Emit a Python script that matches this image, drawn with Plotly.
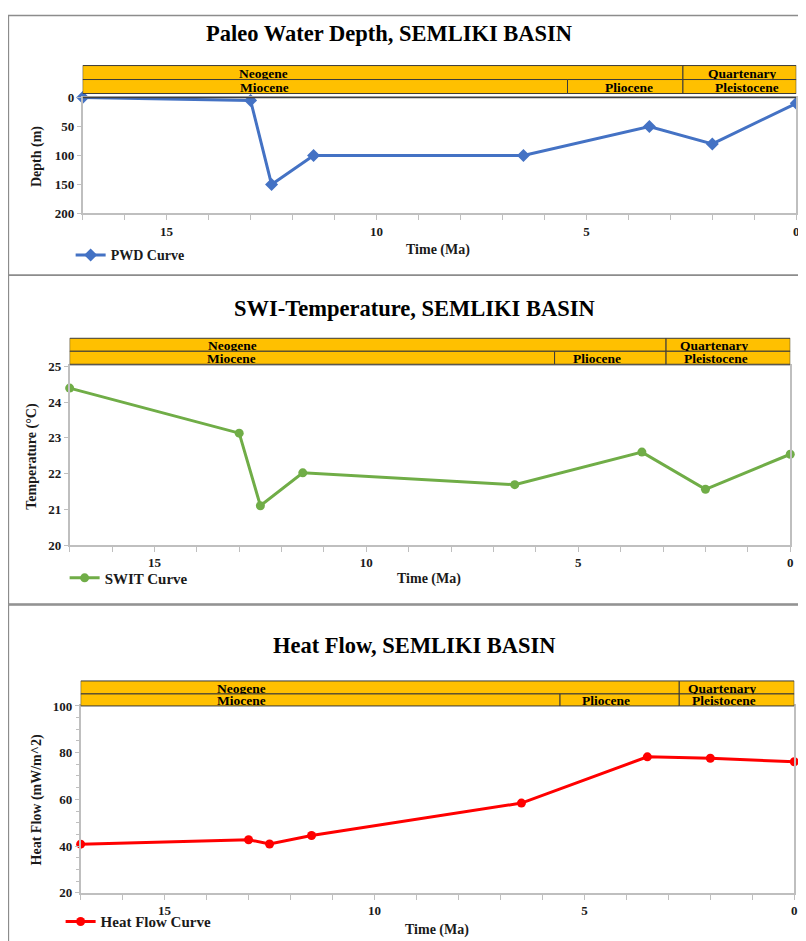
import plotly.graph_objects as go

# ---------------- data ----------------
pwd_time = [17, 13, 12.5, 11.5, 6.5, 3.5, 2, 0]
pwd_depth = [0, 5, 150, 100, 100, 50, 80, 10]

swit_time = [17, 13, 12.5, 11.5, 6.5, 3.5, 2, 0]
swit_temp = [24.39, 23.13, 21.1, 22.02, 21.69, 22.6, 21.56, 22.54]

hf_time = [17, 13, 12.5, 11.5, 6.5, 3.5, 2, 0]
hf_value = [40.8, 42.7, 40.9, 44.5, 58.4, 78.2, 77.6, 76.1]

titles = ["Paleo Water Depth, SEMLIKI BASIN", "SWI-Temperature, SEMLIKI BASIN", "Heat Flow, SEMLIKI BASIN"]
y_titles = ["Depth (m)", "Temperature (°C)", "Heat Flow (mW/m^2)"]
legend_names = ["PWD Curve", "SWIT Curve", "Heat Flow Curve"]
periods = ["Neogene", "Quartenary"]
epochs = ["Miocene", "Pliocene", "Pleistocene"]
# drawn boundaries (Ma) of the time bars in each panel: [Pliocene start, Quaternary start]
bar_bounds = [[5.45, 2.70], [5.56, 2.93], [5.58, 2.74]]
x_ticks = [15, 10, 5, 0]

# ---------------- layout helpers (reference-page pixels -> figure paper) ----------------
W, H = 800, 941
SX, OXP = 0.994, 8.5
SY, OYP = 0.985, 14.4

def px(p):
    return ((p - OXP) / SX) / W

def py(p):
    return 1 - ((p - OYP) / SY) / H

def dom(a, b):
    return [max(0.0, min(a, b)), min(1.0, max(a, b))]

def xd(a, b):
    return dom(px(a), px(b))

def yd(top, bottom):
    return dom(py(bottom), py(top))

def clamp(v):
    return min(max(v, 0.0005), 0.9995)

FONT = "Liberation Serif"
gold = "#FFC000"
edge = "#3a3a3a"
axis_gray = "#BFBFBF"
txt = "#1a1a1a"

panels = [
    dict(x=(83, 795), y=(97, 213), title=(389, 33), bar=(65, 79, 93), plot_top_line=True,
         ytitle=(38, 156), xtitle=(438, 250), legend=(71, 255), lsize=14,
         lab=dict(Neogene=12.7, Miocene=12.66, Pliocene=3.99, Quartenary=1.29, Pleistocene=1.17),
         yrange=[200, 0], ydtick=50, yminor=None, color="#4472C4", symbol="diamond", msize=10),
    dict(x=(70, 789), y=(366, 545), title=(414, 308), bar=(338, 351, 364), plot_top_line=False,
         ytitle=(33, 456), xtitle=(429, 579), legend=(65, 578), lsize=15,
         lab=dict(Neogene=13.15, Miocene=13.17, Pliocene=4.56, Quartenary=1.8, Pleistocene=1.75),
         yrange=[20, 25], ydtick=1, yminor=None, color="#70AD47", symbol="circle", msize=9),
    dict(x=(81, 793), y=(706, 893), title=(414, 646), bar=(681, 694, 706), plot_top_line=False,
         ytitle=(37, 800), xtitle=(437, 930), legend=(61, 922), lsize=15,
         lab=dict(Neogene=13.16, Miocene=13.18, Pliocene=4.49, Quartenary=1.72, Pleistocene=1.67),
         yrange=[20, 100], ydtick=20, yminor=5, color="#FF0000", symbol="circle", msize=9),
]

series = [(pwd_time, pwd_depth), (swit_time, swit_temp), (hf_time, hf_value)]

fig = go.Figure()
shapes = []
annotations = []

# panel frames
frames = [(8, 5, 805, 275), (8, 275, 812, 604), (8, 605, 812, 960)]
for (x0, y0, x1, y1) in frames:
    shapes.append(dict(type="rect", xref="paper", yref="paper",
                       x0=clamp(px(x0)), x1=min(px(x1), 1.05), y0=max(py(y1), -0.05), y1=clamp(py(y0)),
                       line=dict(color="#8c8c8c", width=1.5), fillcolor="rgba(0,0,0,0)", layer="below"))

for i, (p, (t, v)) in enumerate(zip(panels, series)):
    n = "" if i == 0 else str(i + 1)
    xa, ya = "x" + n, "y" + n
    leg = "legend" + n
    fig.add_trace(go.Scatter(
        x=t, y=v, mode="lines+markers", name=legend_names[i], xaxis=xa, yaxis=ya, legend=leg,
        line=dict(color=p["color"], width=3),
        marker=dict(symbol=p["symbol"], size=p["msize"], color=p["color"]),
        showlegend=True, cliponaxis=False,
    ))
    tickfont = dict(family=FONT, size=13, color=txt, weight="bold")
    fig.update_layout(**{
        "xaxis" + n: dict(domain=xd(*p["x"]), anchor=ya, range=[17, 0], tickvals=x_ticks,
                          ticks="outside", ticklen=5, tickcolor=axis_gray, showline=True,
                          linecolor=axis_gray, linewidth=1.5, mirror=True, showgrid=False, zeroline=False,
                          tickfont=tickfont,
                          minor=dict(dtick=1, tick0=0, ticks="outside", ticklen=5, tickcolor=axis_gray, showgrid=False)),
        "yaxis" + n: dict(domain=yd(*p["y"]), anchor=xa, range=p["yrange"], dtick=p["ydtick"],
                          ticks="outside", ticklen=4, tickcolor=axis_gray, showline=True,
                          linecolor=axis_gray, linewidth=1.5, mirror=True, showgrid=False, zeroline=False,
                          tickfont=tickfont,
                          minor=(dict(dtick=p["yminor"], ticks="outside", ticklen=3, tickcolor=axis_gray, showgrid=False)
                                 if p["yminor"] else dict(ticks=""))),
        leg: dict(x=px(p["legend"][0]), y=py(p["legend"][1]), xanchor="left", yanchor="middle",
                  bgcolor="rgba(0,0,0,0)", font=dict(family=FONT, size=p["lsize"], color=txt, weight="bold"),
                  itemwidth=30),
    })

    # title
    annotations.append(dict(text="<b>" + titles[i] + "</b>", xref="paper", yref="paper",
                            x=px(p["title"][0]), y=py(p["title"][1]), showarrow=False,
                            xanchor="center", yanchor="middle", font=dict(family=FONT, size=22.5, color="black")))
    # y title
    annotations.append(dict(text="<b>" + y_titles[i] + "</b>", xref="paper", yref="paper",
                            x=px(p["ytitle"][0]), y=py(p["ytitle"][1]), showarrow=False, textangle=-90,
                            xanchor="center", yanchor="middle", font=dict(family=FONT, size=14, color=txt)))
    # x title
    annotations.append(dict(text="<b>Time (Ma)</b>", xref="paper", yref="paper",
                            x=px(p["xtitle"][0]), y=py(p["xtitle"][1]), showarrow=False,
                            xanchor="center", yanchor="middle", font=dict(family=FONT, size=14, color=txt)))

    # time bars
    b0, b1, b2 = p["bar"]
    plio, quat = bar_bounds[i]
    cells = [
        (17, quat, b0, b1), (quat, 0, b0, b1),
        (17, plio, b1, b2), (plio, quat, b1, b2), (quat, 0, b1, b2),
    ]
    for (c0, c1, r0, r1) in cells:
        shapes.append(dict(type="rect", xref=xa, yref="paper", x0=c0, x1=c1, y0=py(r1), y1=py(r0),
                           fillcolor=gold, line=dict(color=edge, width=1)))
    labs = [(periods[0], b0, b1), (periods[1], b0, b1), (epochs[0], b1, b2), (epochs[1], b1, b2), (epochs[2], b1, b2)]
    for (name, r0, r1) in labs:
        annotations.append(dict(text="<b>" + name + "</b>", xref=xa, yref="paper", x=p["lab"][name],
                                y=py((r0 + r1) / 2 + 0.5), showarrow=False, xanchor="center", yanchor="middle",
                                height=12, font=dict(family=FONT, size=13.5, color="black")))
    if p["plot_top_line"]:
        shapes.append(dict(type="line", xref=xa, yref="paper", x0=17, x1=0, y0=py(p["y"][0]), y1=py(p["y"][0]),
                           line=dict(color="#404040", width=1.5)))

fig.update_layout(
    width=W, height=H, margin=dict(l=0, r=0, t=0, b=0),
    paper_bgcolor="white", plot_bgcolor="white",
    shapes=shapes, annotations=annotations,
    font=dict(family=FONT),
)

fig.write_html("out.html")
